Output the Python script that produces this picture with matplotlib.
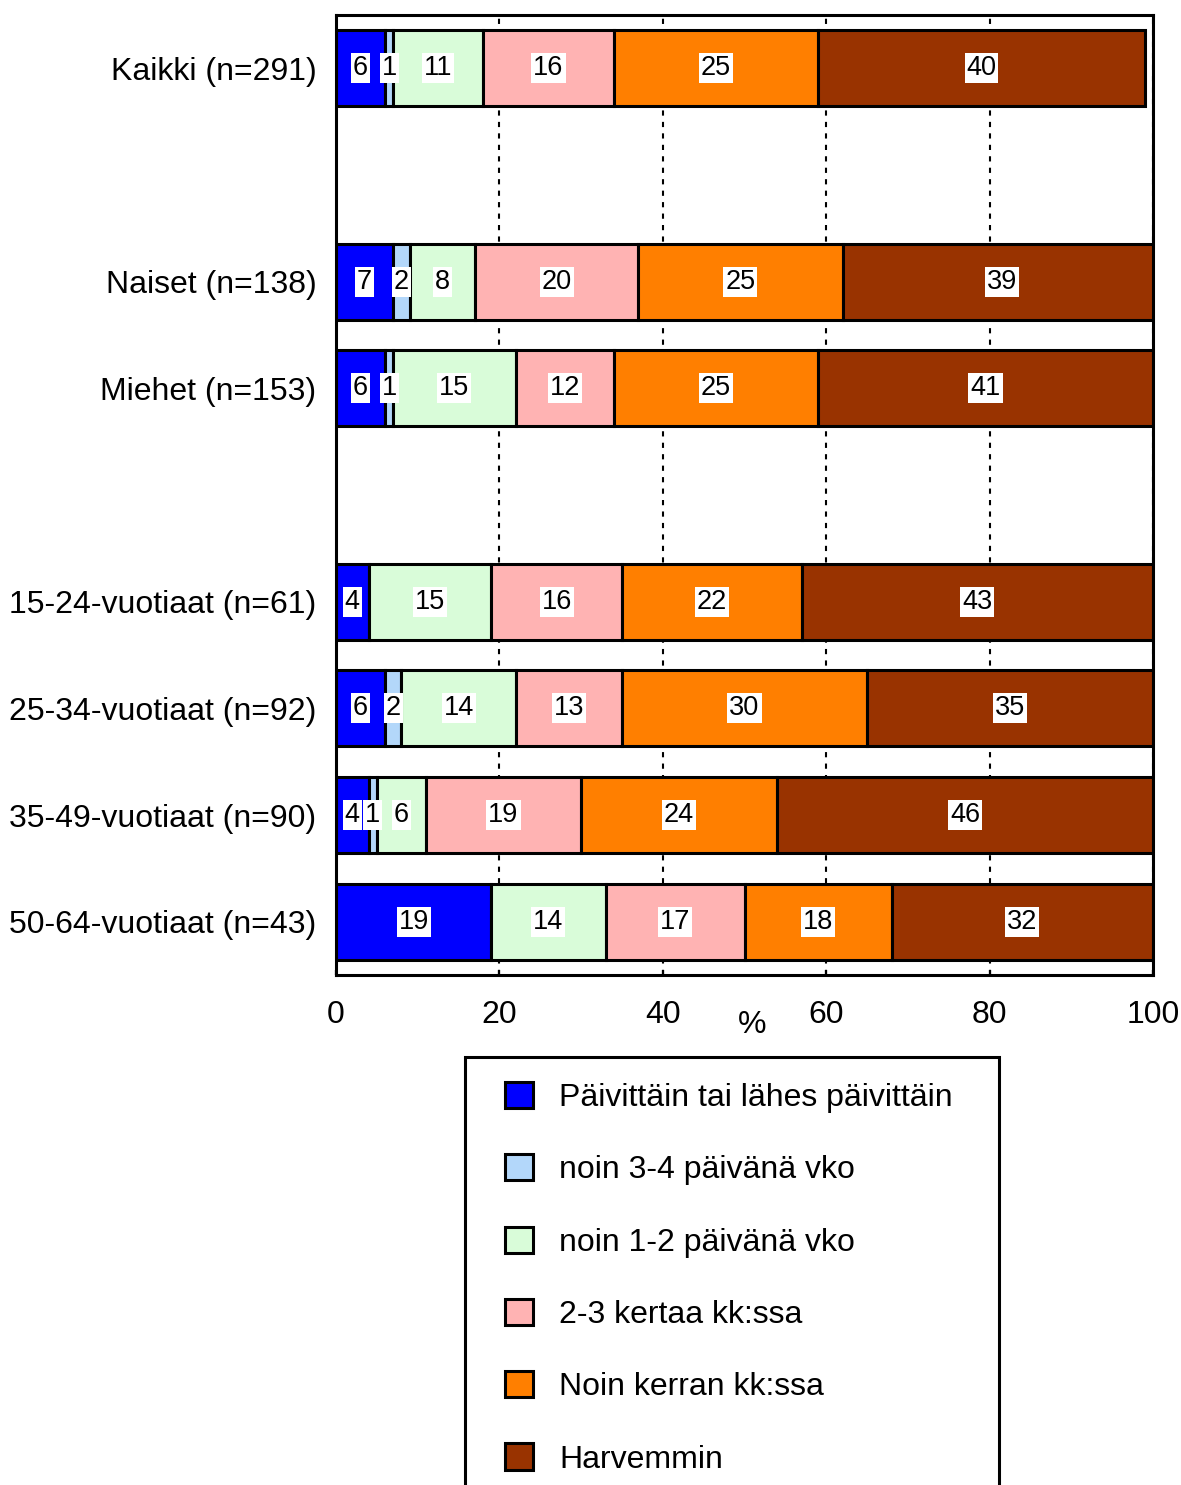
import matplotlib
matplotlib.use("Agg")
import matplotlib.pyplot as plt
from matplotlib.patches import Patch, Rectangle

plt.rcParams['font.family'] = ['Liberation Sans', 'DejaVu Sans']

categories = ["Kaikki (n=291)", "Naiset (n=138)", "Miehet (n=153)",
              "15-24-vuotiaat (n=61)", "25-34-vuotiaat (n=92)",
              "35-49-vuotiaat (n=90)", "50-64-vuotiaat (n=43)"]
rows = [0, 2, 3, 5, 6, 7, 8]

series_names = ["Päivittäin tai lähes päivittäin", "noin 3-4 päivänä vko",
                "noin 1-2 päivänä vko", "2-3 kertaa kk:ssa",
                "Noin kerran kk:ssa", "Harvemmin"]
daily = [6, 7, 6, 4, 6, 4, 19]
days34 = [1, 2, 1, 0, 2, 1, 0]
days12 = [11, 8, 15, 15, 14, 6, 14]
month23 = [16, 20, 12, 16, 13, 19, 17]
month1 = [25, 25, 25, 22, 30, 24, 18]
rarer = [40, 39, 41, 43, 35, 46, 32]
series = [daily, days34, days12, month23, month1, rarer]
colors = ["#0000FF", "#B3D7FA", "#D9FCD9", "#FFB3B3", "#FF7F00", "#993300"]
xticks = [0, 20, 40, 60, 80, 100]

W, H = 1181, 1485
fig = plt.figure(figsize=(W / 100, H / 100), dpi=100)
ax = fig.add_axes([336 / W, 1 - 975 / H, (1153 - 336) / W, (975 - 15) / H])

lefts = [0] * len(categories)
for vals, col in zip(series, colors):
    ax.barh(rows, vals, left=lefts, height=0.71, color=col,
            edgecolor='black', linewidth=2.2, zorder=2)
    for r, v, l in zip(rows, vals, lefts):
        if v > 0:
            ax.text(l + v / 2, r, str(v), ha='center', va='center',
                    fontsize=19.5, zorder=4,
                    bbox=dict(facecolor='white', edgecolor='none', pad=1.4))
    lefts = [a + b for a, b in zip(lefts, vals)]

ax.set_xlim(0, 100)
ax.set_ylim(8.5, -0.5)
ax.set_xticks(xticks)
ax.set_xticklabels([str(t) for t in xticks])
ax.set_yticks(rows)
ax.set_yticklabels(categories)
ax.tick_params(axis='y', length=0, pad=14, labelsize=23)
ax.tick_params(axis='x', direction='in', length=3.6, width=1.6, pad=18,
               labelsize=23)
ax.xaxis.grid(True, linestyle=(0, (2.5, 3)), color='black', linewidth=1.5,
              zorder=0)
ax.set_axisbelow(True)
for s in ax.spines.values():
    s.set_linewidth(2.2)
    s.set_zorder(5)

fig.text(752 / W, 1 - 1025 / H, '%', ha='center', va='center', fontsize=23)

handles = [Patch(facecolor=c, edgecolor='black', linewidth=2.2) for c in colors]
fig.legend(handles, series_names, loc='upper left',
           bbox_to_anchor=(505 / W, 1 - 1082 / H), frameon=False,
           borderpad=0, fontsize=23, handlelength=0.88, handleheight=0.88,
           handletextpad=0.82, labelspacing=1.29, borderaxespad=0)
fig.add_artist(Rectangle((465 / W, -0.02), (999 - 465) / W,
                         (H - 1057) / H + 0.02, transform=fig.transFigure,
                         fill=False, edgecolor='black', linewidth=2.2))

fig.savefig('out.png', dpi=100)
